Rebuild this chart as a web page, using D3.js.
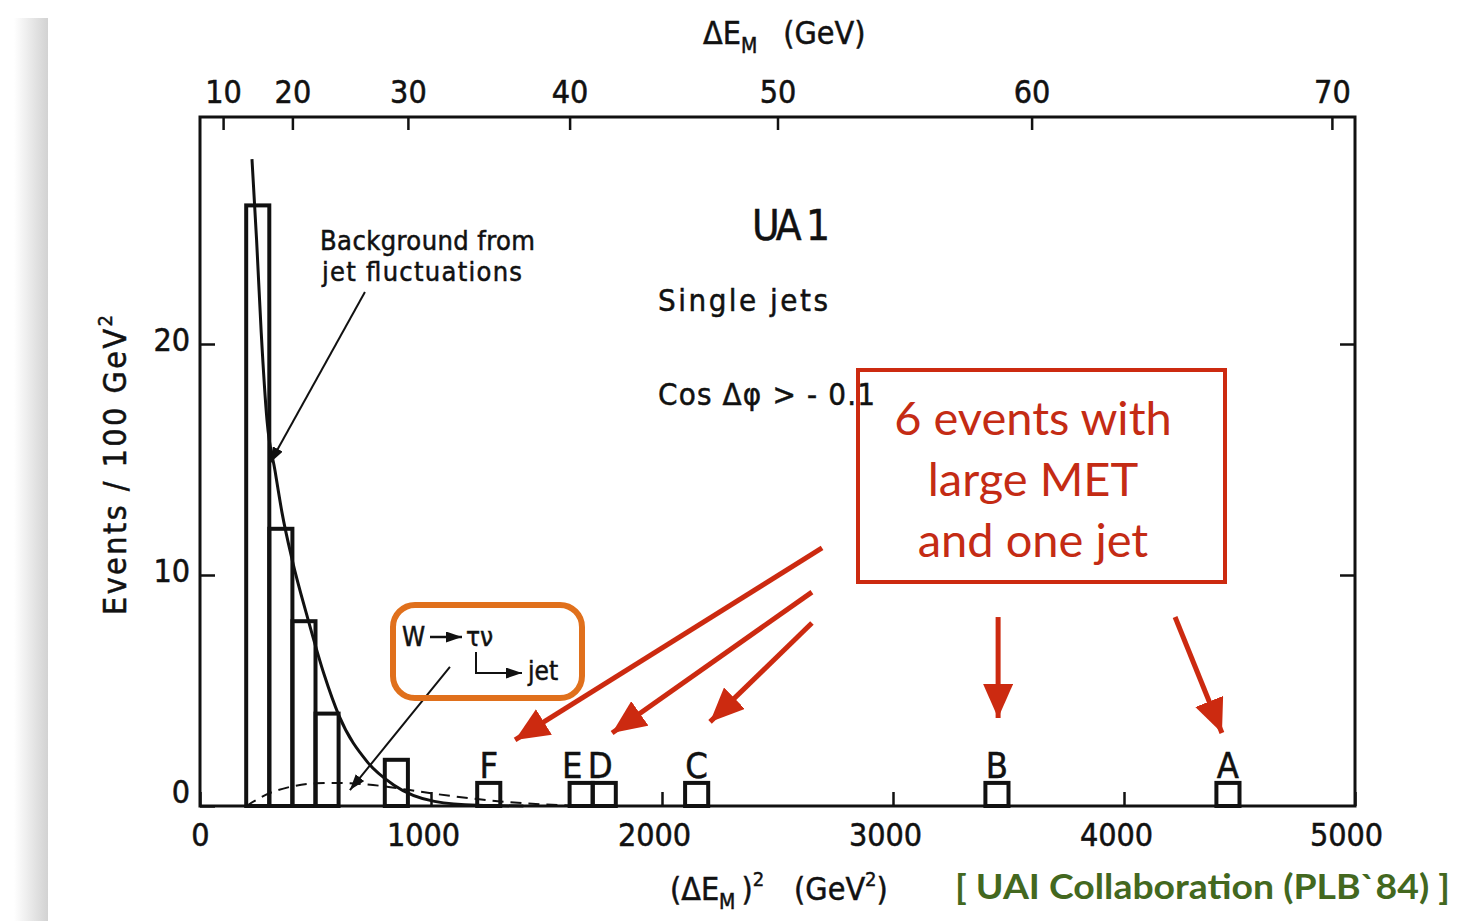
<!DOCTYPE html>
<html>
<head>
<meta charset="utf-8">
<script src="https://cdn.jsdelivr.net/npm/d3@7"></script>
<style>
  body { margin: 0; background: #fff; }
  svg text { font-family: "DejaVu Sans Condensed", "DejaVu Sans", sans-serif; font-stretch: condensed;
             fill: #111; stroke: #111; stroke-width: 0.5; }
  svg text.plain { stroke: none; font-stretch: normal; }
</style>
</head>
<body>
<div id="chart"></div>
<script>
// Histogram bins (lower edge, GeV^2, width 100) and counts
const binStarts = [200, 300, 400, 500, 800, 1200, 1600, 1700, 2100, 3400, 4400];
const binCounts = [26, 12, 8, 4, 2, 1, 1, 1, 1, 1, 1];

// labelled single events
const eventNames = ["F", "E", "D", "C", "B", "A"];
const eventBins = [1200, 1600, 1700, 2100, 3400, 4400];

// background from jet fluctuations (solid curve)
const bgX = [225, 245, 265, 290, 325, 355, 398, 467, 537, 602, 725, 840, 1015, 1200, 1400];
const bgY = [28, 24.5, 20.5, 16.7, 14.5, 12.7, 10.7, 8.1, 5.7, 3.9, 1.9, 0.9, 0.2, 0.03, 0];

// W -> tau nu expectation (dashed curve)
const wX = [200, 300, 400, 500, 600, 700, 800, 900, 1000, 1100, 1200, 1300, 1400, 1500, 1600, 1700];
const wY = [0, 0.55, 0.85, 0.98, 1.0, 0.95, 0.85, 0.7, 0.55, 0.42, 0.3, 0.2, 0.12, 0.06, 0.02, 0];

// ticks
const xTicks = [0, 1000, 2000, 3000, 4000, 5000];
const topTicks = [10, 20, 30, 40, 50, 60, 70];
const yTicks = [0, 10, 20];

const W = 1457, H = 921;
const plotL = 200, plotR = 1355, plotT = 117, plotB = 806;

const svg = d3.select("#chart").append("svg")
    .attr("width", W).attr("height", H);

// page shadow on the left
const defs = svg.append("defs");
const grad = defs.append("linearGradient").attr("id", "shadow").attr("x1", 0).attr("x2", 1);
grad.append("stop").attr("offset", 0).attr("stop-color", "#fff");
grad.append("stop").attr("offset", 1).attr("stop-color", "#d2d2d2");
svg.append("rect").attr("x", 14).attr("y", 18).attr("width", 34).attr("height", H - 18)
    .attr("fill", "url(#shadow)");

// arrow markers
function marker(id, color, len, wid) {
    defs.append("marker").attr("id", id)
        .attr("viewBox", `0 0 ${len} ${wid}`)
        .attr("refX", len).attr("refY", wid / 2)
        .attr("markerUnits", "userSpaceOnUse")
        .attr("markerWidth", len).attr("markerHeight", wid)
        .attr("orient", "auto")
        .append("path").attr("d", `M0,0L${len},${wid / 2}L0,${wid}Z`).attr("fill", color);
}
marker("blackHead", "#111", 16, 11);
marker("redHead", "#cc2a10", 34, 30);

// scales
const x = d3.scaleLinear().domain([0, 5000]).range([plotL, plotR]);
const y = d3.scaleLinear().domain([0, (plotB - plotT) / 23.1]).range([plotB, plotT]);
const xTop = d3.scalePow().exponent(2).domain([0, Math.sqrt(5000)]).range([plotL, plotR]);

// frame
svg.append("rect").attr("x", plotL).attr("y", plotT)
    .attr("width", plotR - plotL).attr("height", plotB - plotT)
    .attr("fill", "none").attr("stroke", "#111").attr("stroke-width", 3);

// bottom axis (ticks point inwards)
const gx = svg.append("g").attr("transform", `translate(0,${plotB})`)
    .call(d3.axisBottom(x).tickValues(xTicks).tickFormat(d3.format("d"))
        .tickSizeInner(-14).tickSizeOuter(0).tickPadding(16));
gx.select(".domain").remove();
gx.selectAll("line").attr("stroke", "#111").attr("stroke-width", 2.5);
gx.selectAll("text").attr("font-size", 32).attr("fill", "#111")
    .attr("font-family", null).attr("dy", "0.75em")
    .attr("dx", d => d === 0 ? 0 : d === 5000 ? -9 : -8);

// top axis in GeV
const gt = svg.append("g").attr("transform", `translate(0,${plotT})`)
    .call(d3.axisTop(xTop).tickValues(topTicks).tickSizeInner(-13).tickSizeOuter(0).tickPadding(14));
gt.select(".domain").remove();
gt.selectAll("line").attr("stroke", "#111").attr("stroke-width", 2.5);
gt.selectAll("text").attr("font-size", 32).attr("fill", "#111")
    .attr("font-family", null);

// left axis
const gy = svg.append("g").attr("transform", `translate(${plotL},0)`)
    .call(d3.axisLeft(y).tickValues(yTicks).tickSizeInner(-15).tickSizeOuter(0).tickPadding(10));
gy.select(".domain").remove();
gy.selectAll("line").attr("stroke", "#111").attr("stroke-width", 2.5);
gy.selectAll("text").attr("font-size", 32).attr("fill", "#111")
    .attr("font-family", null).attr("dy", "0.2em");
gy.selectAll(".tick").filter(d => d === 0).select("text").attr("dy", "-0.1em");

// right axis ticks
const gr = svg.append("g").attr("transform", `translate(${plotR},0)`)
    .call(d3.axisRight(y).tickValues(yTicks.filter(d => d > 0)).tickSizeInner(-15).tickSizeOuter(0).tickFormat(""));
gr.select(".domain").remove();
gr.selectAll("line").attr("stroke", "#111").attr("stroke-width", 2.5);

// histogram bars
const bins = binStarts.map((b, i) => ({x0: b, n: binCounts[i]}));
svg.selectAll(".bar").data(bins).enter().append("rect")
    .attr("class", "bar")
    .attr("x", d => x(d.x0)).attr("y", d => y(d.n))
    .attr("width", d => x(d.x0 + 100) - x(d.x0))
    .attr("height", d => y(0) - y(d.n))
    .attr("fill", "none").attr("stroke", "#111").attr("stroke-width", 4);

// curves
const line = d3.line().x(d => x(d[0])).y(d => y(d[1])).curve(d3.curveMonotoneX);
svg.append("path").datum(bgX.map((v, i) => [v, bgY[i]]))
    .attr("d", line).attr("fill", "none").attr("stroke", "#111").attr("stroke-width", 3);
svg.append("path").datum(wX.map((v, i) => [v, wY[i]]))
    .attr("d", line).attr("fill", "none").attr("stroke", "#111").attr("stroke-width", 2)
    .attr("stroke-dasharray", "11,7");

// event letters
svg.selectAll(".ev").data(eventNames).enter().append("text")
    .attr("x", (d, i) => x(eventBins[i] + 50) + (d === "E" ? -9 : d === "D" ? -4 : 0))
    .attr("y", plotB - 28)
    .attr("text-anchor", "middle").attr("font-size", 36)
    .text(d => d);

// axis titles
svg.append("text").attr("x", 703).attr("y", 44).attr("font-size", 32)
    .html('ΔE<tspan font-size="21" dy="9">M</tspan><tspan dy="-9" dx="26">(GeV)</tspan>');
svg.append("text").attr("x", 670).attr("y", 900).attr("font-size", 32)
    .html('(ΔE<tspan font-size="21" dy="9">M</tspan><tspan dy="-9" dx="6">)</tspan><tspan font-size="20" dy="-14">2</tspan><tspan dy="14" dx="30">(GeV</tspan><tspan font-size="20" dy="-14">2</tspan><tspan dy="14">)</tspan>');
svg.append("text").attr("transform", "translate(126,615) rotate(-90)")
    .attr("font-size", 32).attr("textLength", 300)
    .html('Events / 100 GeV<tspan font-size="20" dy="-14">2</tspan>');

// plot annotations
svg.append("text").attr("x", 320).attr("y", 250).attr("font-size", 27)
    .attr("textLength", 215).text("Background from");
svg.append("text").attr("x", 322).attr("y", 281).attr("font-size", 27)
    .attr("textLength", 200).text("jet fluctuations");
svg.append("text").attr("x", 752).attr("y", 240).attr("font-size", 42)
    .attr("textLength", 78).text("UA 1");
svg.append("text").attr("x", 658).attr("y", 311).attr("font-size", 31)
    .attr("textLength", 170).text("Single jets");
svg.append("text").attr("x", 658).attr("y", 405).attr("font-size", 31)
    .attr("textLength", 217).text("Cos Δφ > - 0.1");

function arrow(x1, y1, x2, y2, color, w, head) {
    svg.append("line")
        .attr("x1", x(x1)).attr("y1", y(y1)).attr("x2", x(x2)).attr("y2", y(y2))
        .attr("stroke", color).attr("stroke-width", w)
        .attr("marker-end", `url(#${head})`);
}
arrow(714, 22.25, 303, 14.85, "#111", 2, "blackHead");
arrow(1082, 6.02, 649, 0.69, "#111", 2, "blackHead");

// W -> tau nu box
svg.append("rect").attr("x", 393).attr("y", 605).attr("width", 189).attr("height", 93)
    .attr("rx", 22).attr("fill", "none").attr("stroke", "#e0701c").attr("stroke-width", 6);
svg.append("text").attr("x", 402).attr("y", 646).attr("font-size", 26).text("W");
svg.append("line").attr("x1", 430).attr("y1", 637).attr("x2", 462).attr("y2", 637)
    .attr("stroke", "#111").attr("stroke-width", 2.5).attr("marker-end", "url(#blackHead)");
svg.append("text").attr("x", 466).attr("y", 646).attr("font-size", 26).text("τν");
svg.append("path").attr("d", "M476,652V673H522")
    .attr("fill", "none").attr("stroke", "#111").attr("stroke-width", 2)
    .attr("marker-end", "url(#blackHead)");
svg.append("text").attr("x", 528).attr("y", 680).attr("font-size", 26).text("jet");

// red call-out
svg.append("rect").attr("x", 858).attr("y", 370).attr("width", 367).attr("height", 212)
    .attr("fill", "none").attr("stroke", "#cc2a10").attr("stroke-width", 4);
const callout = ["6 events with", "large MET", "and one jet"];
svg.selectAll(".call").data(callout).enter().append("text")
    .attr("class", "plain")
    .attr("x", 1033).attr("y", (d, i) => 435 + i * 61)
    .attr("text-anchor", "middle").attr("font-size", 47)
    .style("font-family", "Lato, 'Open Sans', sans-serif").style("fill", "#c42b14")
    .text(d => d);

arrow(2693, 11.17, 1364, 2.86, "#cc2a10", 5, "redHead");
arrow(2649, 9.26, 1784, 3.16, "#cc2a10", 5, "redHead");
arrow(2649, 7.92, 2208, 3.64, "#cc2a10", 5, "redHead");
arrow(3455, 8.18, 3455, 3.81, "#cc2a10", 5, "redHead");
arrow(4221, 8.18, 4424, 3.16, "#cc2a10", 5, "redHead");

// source
svg.append("text").attr("class", "plain").attr("x", 955).attr("y", 899).attr("font-size", 34)
    .attr("textLength", 495).attr("lengthAdjust", "spacingAndGlyphs")
    .style("font-family", "Lato, sans-serif").style("font-weight", "bold").style("fill", "#43681f")
    .text("[ UAI Collaboration (PLB`84) ]");
</script>
</body>
</html>
